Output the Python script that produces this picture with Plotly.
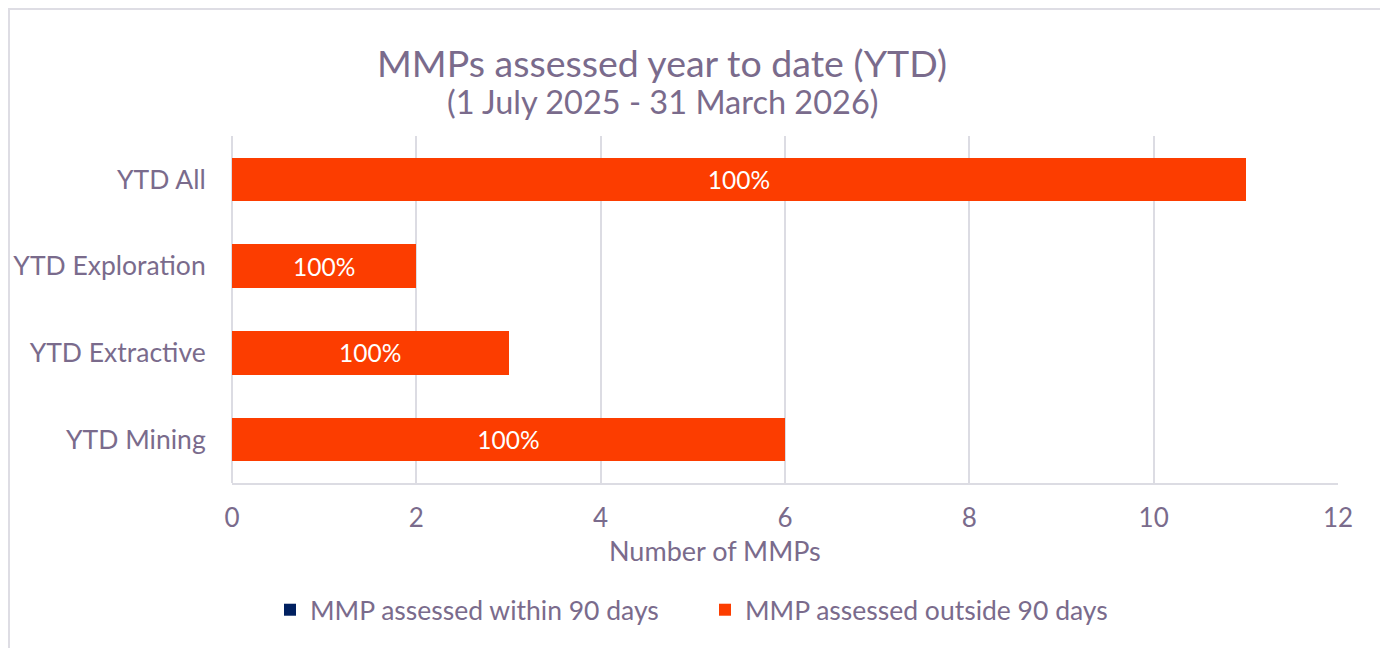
import plotly.graph_objects as go

categories = ["YTD All", "YTD Exploration", "YTD Extractive", "YTD Mining"]
within_90 = [0, 0, 0, 0]
outside_90 = [11, 2, 3, 6]
x_ticks = [0, 2, 4, 6, 8, 10, 12]

OFF = 8  # page body margin
W, H = 1388 - OFF, 648 - OFF
# desired screen positions of the plot area
SL, SR, ST, SB = 232, 1338, 136, 483
ML, MT = SL - OFF, ST - OFF
MR, MB = W - (SR - OFF), H - (SB - OFF)
PW, PH = SR - SL, SB - ST

TXT = "#7a6b8c"
GRID = "#dcdce3"
FONT = "Lato, 'Open Sans', sans-serif"

def px_x(px):  # screen x -> paper
    return (px - SL) / PW

def px_y(py):  # screen y -> paper
    return (SB - py) / PH

pct_labels = [f"{round(o / (w + o) * 100)}%" if (w + o) else "" for w, o in zip(within_90, outside_90)]

fig = go.Figure()
fig.add_trace(go.Bar(
    y=categories, x=within_90, orientation="h", name="MMP assessed within 90 days",
    marker=dict(color="#002060", line=dict(width=0)), width=0.5,
))
fig.add_trace(go.Bar(
    y=categories, x=outside_90, orientation="h", name="MMP assessed outside 90 days",
    marker=dict(color="#fc3d00", line=dict(width=0)), width=0.5,
    text=pct_labels, textposition="inside", insidetextanchor="middle",
    textfont=dict(color="white", size=24.5, family=FONT), cliponaxis=False,
))

fig.update_layout(
    width=W, height=H, barmode="stack",
    margin=dict(l=ML, r=MR, t=MT, b=MB, pad=0, autoexpand=False),
    paper_bgcolor="white", plot_bgcolor="white",
    font=dict(family=FONT, color=TXT, size=26.5),
    showlegend=True,
    legend=dict(orientation="h", x=px_x(270), xanchor="left", y=px_y(610), yanchor="middle",
                font=dict(size=26.5, color=TXT), traceorder="normal", itemwidth=30,
                entrywidth=390, entrywidthmode="pixels",
                bgcolor="rgba(0,0,0,0)"),
    xaxis=dict(range=[0, 12], tickvals=x_ticks, showgrid=True, gridcolor=GRID, gridwidth=1.5,
               zeroline=True, zerolinecolor=GRID, zerolinewidth=1.5,
               showline=True, linecolor=GRID, linewidth=1.5, automargin=False,
               ticks="outside", ticklen=11, tickcolor="rgba(0,0,0,0)",
               tickfont=dict(size=26, color=TXT), fixedrange=True),
    yaxis=dict(categoryorder="array", categoryarray=categories[::-1], showgrid=False,
               ticks="outside", ticklen=20, tickcolor="rgba(0,0,0,0)", automargin=False,
               tickfont=dict(size=26.5, color=TXT), showline=False, fixedrange=True),
    annotations=[
        dict(text="MMPs assessed year to date (YTD)", xref="paper", yref="paper",
             x=px_x(662), y=px_y(62), xanchor="center", yanchor="middle", showarrow=False,
             font=dict(size=37.5, color=TXT, family=FONT)),
        dict(text="(1 July 2025 - 31 March 2026)", xref="paper", yref="paper",
             x=px_x(662), y=px_y(101), xanchor="center", yanchor="middle", showarrow=False,
             font=dict(size=32.5, color=TXT, family=FONT)),
        dict(text="Number of MMPs", xref="paper", yref="paper",
             x=px_x(715), y=px_y(550), xanchor="center", yanchor="middle", showarrow=False,
             font=dict(size=27, color=TXT, family=FONT)),
    ],
    shapes=[
        dict(type="path", xref="paper", yref="paper",
             path=f"M {px_x(9)} {px_y(700)} L {px_x(9)} {px_y(9)} L {px_x(1382)} {px_y(9)} L {px_x(1382)} {px_y(700)}",
             line=dict(color="#dedde4", width=2)),
    ],
)

fig.write_html("out.html")
